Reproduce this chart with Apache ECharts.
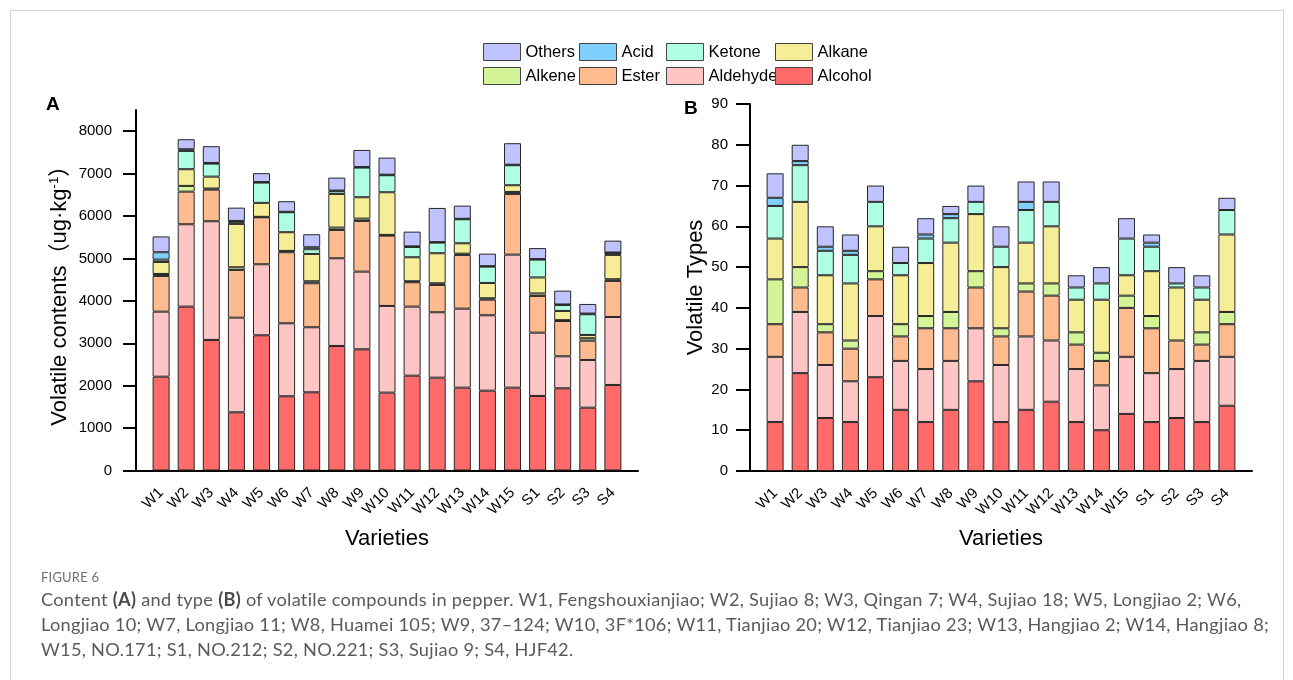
<!DOCTYPE html>
<html>
<head>
<meta charset="utf-8">
<script src="https://cdn.jsdelivr.net/npm/echarts@6.0.0/dist/echarts.min.js"></script>
<style>
  body { margin: 0; background: #fff; }
  #frame { position: absolute; left: 10px; top: 10px; width: 1272px; height: 720px; border: 1px solid #d4d4d4; }
  #chart { position: absolute; left: 0; top: 0; width: 1293px; height: 680px; }
  .cap { position: absolute; left: 41px; font-family: Lato, 'Open Sans', sans-serif; color: #5a5a5a; white-space: nowrap; }
  .fig { top: 569px; font-size: 13px; color: #6e6e6e; letter-spacing: 0.2px; }
  .body { top: 587px; font-size: 18.2px; line-height: 25px; letter-spacing: 0.28px; }
  .body b { color: #4a4a4a; }
</style>
</head>
<body>
<div id="frame"></div>
<div id="chart"></div>
<div class="cap fig">FIGURE 6</div>
<div class="cap body">
  <div>Content <b>(A)</b> and type <b>(B)</b> of volatile compounds in pepper. W1, Fengshouxianjiao; W2, Sujiao 8; W3, Qingan 7; W4, Sujiao 18; W5, Longjiao 2; W6,</div>
  <div>Longjiao 10; W7, Longjiao 11; W8, Huamei 105; W9, 37–124; W10, 3F*106; W11, Tianjiao 20; W12, Tianjiao 23; W13, Hangjiao 2; W14, Hangjiao 8;</div>
  <div>W15, NO.171; S1, NO.212; S2, NO.221; S3, Sujiao 9; S4, HJF42.</div>
</div>
<script>
// ---------------- DATA ----------------
const varieties = ['W1','W2','W3','W4','W5','W6','W7','W8','W9','W10','W11','W12','W13','W14','W15','S1','S2','S3','S4'];
const compounds = ['Alcohol','Aldehyde','Ester','Alkene','Alkane','Ketone','Acid','Others'];

// (A) Volatile contents, ug·kg-1
const contentAlcohol  = [2212,3864,3078,1372,3188,1750,1844,2936,2858,1836,2236,2189,1953,1882,1953,1757,1938,1481,2017];
const contentAldehyde = [1533,1942,2799,2232,1675,1721,1533,2068,1831,2044,1628,1542,1863,1778,3137,1493,755,1125,1603];
const contentEster    = [842,769,746,1125,1108,1675,1038,668,1195,1658,575,644,1267,368,1431,866,833,455,850];
const contentAlkene   = [47,135,25,63,10,31,47,55,55,17,23,40,30,33,47,59,19,57,40];
const contentAlkane   = [283,394,281,1022,329,441,644,794,504,1006,566,708,245,361,158,377,217,78,573];
const contentKetone   = [55,431,307,40,479,472,111,64,699,401,243,250,566,385,472,421,141,488,47];
const contentAcid     = [174,40,15,30,12,10,47,15,13,13,14,12,11,11,12,12,12,16,10];
const contentOthers   = [373,236,396,314,209,249,307,306,404,402,347,806,310,295,507,259,326,227,280];

// (B) Volatile types
const typesAlcohol  = [12,24,13,12,23,15,12,15,22,12,15,17,12,10,14,12,13,12,16];
const typesAldehyde = [16,15,13,10,15,12,13,12,13,14,18,15,13,11,14,12,12,15,12];
const typesEster    = [8,6,8,8,9,6,10,8,10,7,11,11,6,6,12,11,7,4,8];
const typesAlkene   = [11,5,2,2,2,3,3,4,4,2,2,3,3,2,3,3,0,3,3];
const typesAlkane   = [10,16,12,14,11,12,13,17,14,15,10,14,8,13,5,11,13,8,19];
const typesKetone   = [8,9,6,7,6,3,6,6,3,5,8,6,3,4,9,6,1,3,6];
const typesAcid     = [2,1,1,1,0,0,1,1,0,0,2,0,0,0,0,1,0,0,0];
const typesOthers   = [6,4,5,4,4,4,4,2,4,5,5,5,3,4,5,2,4,3,3];

const contentTicks = [0,1000,2000,3000,4000,5000,6000,7000,8000];
const typesTicks = [0,10,20,30,40,50,60,70,80,90];

// ---------------- STYLE ----------------
const colorMap = {
  Alcohol: '#FF6B6B', Aldehyde: '#FFC4C4', Ester: '#FFBB90', Alkene: '#D4F597',
  Alkane: '#F5EE96', Ketone: '#AFFFE3', Acid: '#80D0FF', Others: '#BFC3FF'
};
const FONT = "'Liberation Sans', Arial, 'Noto Sans CJK SC', sans-serif";

const contentData = [contentAlcohol, contentAldehyde, contentEster, contentAlkene, contentAlkane, contentKetone, contentAcid, contentOthers];
const typesData = [typesAlcohol, typesAldehyde, typesEster, typesAlkene, typesAlkane, typesKetone, typesAcid, typesOthers];

const axisCats = [''].concat(varieties).concat([' ']);
function pad(arr) { return [null].concat(arr.map(v => (v === 0 ? null : v))).concat([null]); }

function makeSeries(dataList, idx, stack) {
  return compounds.map((name, i) => ({
    name: name,
    type: 'bar',
    stack: stack,
    xAxisIndex: idx,
    yAxisIndex: idx,
    barWidth: 17,
    data: pad(dataList[i]),
    itemStyle: { color: colorMap[name], borderColor: '#262626', borderWidth: 1 },
    emphasis: { disabled: true },
    animation: false
  }));
}

function xAxisCfg(gridIndex) {
  return {
    type: 'category', gridIndex: gridIndex, data: axisCats, boundaryGap: false,
    axisLine: { lineStyle: { color: '#000', width: 2 } },
    axisTick: { show: false },
    axisLabel: { interval: 0, rotate: 45, fontSize: 15, color: '#000', fontFamily: FONT, margin: 20 },
    name: 'Varieties', nameLocation: 'middle', nameGap: 57,
    nameTextStyle: { fontSize: 22, color: '#000', fontFamily: FONT }
  };
}

const legendCommon = { orient: 'vertical', itemWidth: 37, itemHeight: 17, itemGap: 6, icon: 'rect',
  textStyle: { fontSize: 16.5, color: '#000', fontFamily: FONT }, top: 43, padding: 0, itemStyle: { borderColor: '#444', borderWidth: 1 } };

const plainNum = v => String(v);

const option = {
  backgroundColor: 'transparent',
  animation: false,
  title: [
    { text: 'A', left: 46, top: 95, padding: 0, textStyle: { fontSize: 19, fontWeight: 'bold', color: '#000', fontFamily: FONT } },
    { text: 'B', left: 684, top: 99, padding: 0, textStyle: { fontSize: 19, fontWeight: 'bold', color: '#000', fontFamily: FONT } }
  ],
  legend: [
    Object.assign({}, legendCommon, { left: 483, data: ['Others', 'Alkene'] }),
    Object.assign({}, legendCommon, { left: 579, data: ['Acid', 'Ester'] }),
    Object.assign({}, legendCommon, { left: 666, data: ['Ketone', 'Aldehyde'] }),
    Object.assign({}, legendCommon, { left: 775, data: ['Alkane', 'Alcohol'] })
  ],
  grid: [
    { left: 136, top: 110, width: 502, height: 360.5 },
    { left: 750, top: 104, width: 502, height: 367 }
  ],
  xAxis: [xAxisCfg(0), xAxisCfg(1)],
  yAxis: [
    {
      type: 'value', gridIndex: 0, min: 0, max: 8500,
      axisLine: { show: true, lineStyle: { color: '#000', width: 2 } },
      axisTick: { show: true, length: 13, customValues: contentTicks, lineStyle: { color: '#000', width: 2 } },
      axisLabel: { customValues: contentTicks, formatter: plainNum, fontSize: 15, color: '#000', fontFamily: FONT, margin: 24 },
      splitLine: { show: false },
      name: 'Volatile contents（ug·kg{sup|-1}）', nameLocation: 'middle', nameGap: 64,
      nameTextStyle: { fontSize: 22, color: '#000', fontFamily: FONT,
        rich: { sup: { fontSize: 13, color: '#000', fontFamily: FONT, padding: [0, 0, 11, 0] } } }
    },
    {
      type: 'value', gridIndex: 1, min: 0, max: 90, interval: 10,
      axisLine: { show: true, lineStyle: { color: '#000', width: 2 } },
      axisTick: { show: true, length: 14, customValues: typesTicks, lineStyle: { color: '#000', width: 2 } },
      axisLabel: { customValues: typesTicks, formatter: plainNum, fontSize: 15, color: '#000', fontFamily: FONT, margin: 22 },
      splitLine: { show: false },
      name: 'Volatile Types', nameLocation: 'middle', nameGap: 40,
      nameTextStyle: { fontSize: 22, color: '#000', fontFamily: FONT }
    }
  ],
  series: makeSeries(contentData, 0, 'content').concat(makeSeries(typesData, 1, 'types'))
};

const chart = echarts.init(document.getElementById('chart'), null, { renderer: 'canvas' });
chart.setOption(option);
</script>
</body>
</html>
